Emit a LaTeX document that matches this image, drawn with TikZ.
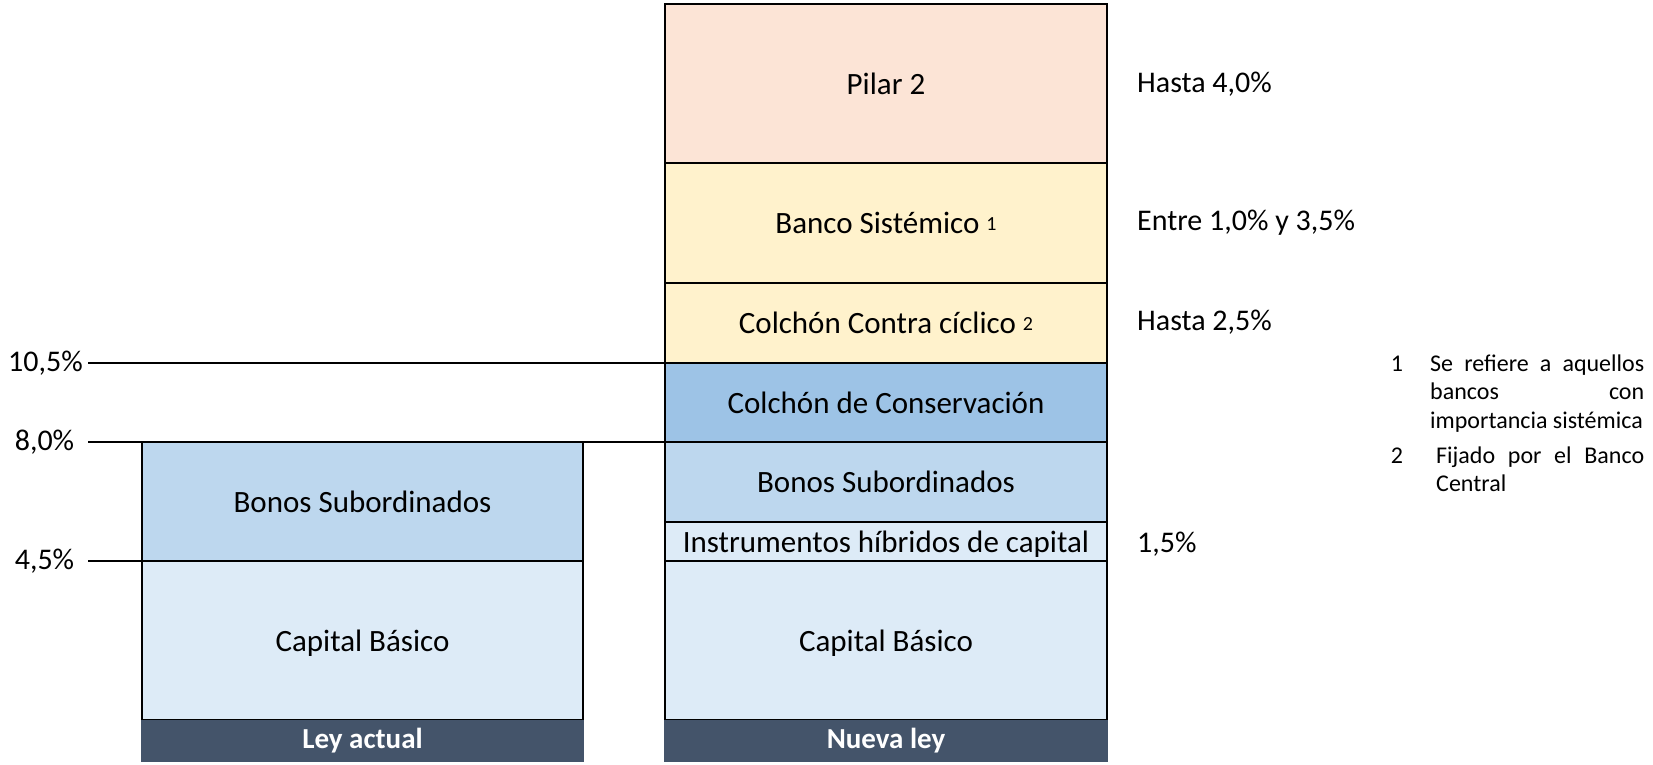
\documentclass[tikz,border=0pt]{standalone}
\usepackage{fontspec}
\setmainfont{Carlito}
\definecolor{peach}{HTML}{FCE4D6}
\definecolor{cream}{HTML}{FFF2CC}
\definecolor{bluemid}{HTML}{9DC3E6}
\definecolor{bluelt}{HTML}{BDD7EE}
\definecolor{bluepale}{HTML}{DDEBF7}
\definecolor{band}{HTML}{44546A}
\tikzset{
  seg/.style={draw=black, line width=2.4pt, inner sep=0pt, minimum width=442pt,
    font=\fontsize{31}{36}\selectfont, text=black},
  bandbox/.style={fill=band, inner sep=0pt, minimum width=444pt, minimum height=42pt,
    text=white, font=\fontsize{29}{34}\selectfont\bfseries},
  lvl/.style={font=\fontsize{30}{36}\selectfont, inner sep=0pt},
  rlab/.style={font=\fontsize{30}{36}\selectfont, inner sep=0pt, anchor=west},
  fnote/.style={font=\fontsize{24}{29}\selectfont, inner sep=0pt, anchor=base west},
  fnum/.style={font=\fontsize{24}{29}\selectfont, inner sep=0pt, anchor=base},
  guide/.style={line width=2.2pt, black},
}
\newcommand{\supmark}[1]{ \raisebox{3pt}{\fontsize{20}{20}\selectfont #1}}
\begin{document}
\begin{tikzpicture}[x=1pt,y=-1pt]
\useasboundingbox (0,0) rectangle (1653,764);
% right column (Nueva ley)
\node[seg, fill=bluepale, minimum height=159pt, text depth=0pt] (capN) at (886,640.5) {Capital Básico};
\node[seg, fill=bluepale, minimum height=39pt, text depth=0pt] (hib) at (886,541.5) {Instrumentos híbridos de capital};
\node[seg, fill=bluelt, minimum height=80pt] (bonN) at (886,482) {Bonos Subordinados};
\node[seg, fill=bluemid, minimum height=79pt] (cons) at (886,402.5) {Colchón de Conservación};
\node[seg, fill=cream, minimum height=80pt] (contra) at (886,323) {Colchón Contra cíclico\supmark{2}};
\node[seg, fill=cream, minimum height=120pt] (sist) at (886,223) {Banco Sistémico\supmark{1}};
\node[seg, fill=peach, minimum height=159pt] (pilar) at (886,83.5) {Pilar 2};
\node[bandbox] (nueva) at (886,741) {\raisebox{-2pt}{Nueva ley}};
% left column (Ley actual)
\node[seg, fill=bluepale, minimum width=441pt, minimum height=159pt, text depth=0pt] (capA) at (362.5,640.5) {Capital Básico};
\node[seg, fill=bluelt, minimum width=441pt, minimum height=119pt] (bonA) at (362.5,501.5) {Bonos Subordinados};
\node[bandbox, minimum width=443pt] (actual) at (362.5,741) {\raisebox{-2pt}{Ley actual}};
% level labels and guide lines
\node[lvl] (p105) at (45.5,363) {10,5\%};
\node[lvl] (p80) at (44.5,442) {8,0\%};
\node[lvl] (p45) at (44.5,561) {4,5\%};
\coordinate (g105) at (88,363);
\coordinate (g80) at (88,442);
\coordinate (g45) at (88,561);
\draw[guide] (g105) -- (g105 -| cons.west);
\draw[guide] (g80) -- (g80 -| bonN.west);
\draw[guide] (g45) -- (g45 -| capA.west);
% right labels
\node[rlab] (r1) at (1137,84) {Hasta 4,0\%};
\node[rlab] (r2) at (1137,223) {Entre 1,0\% y 3,5\%};
\node[rlab] (r3) at (1137,322) {Hasta 2,5\%};
\node[rlab] (r4) at (1137,544) {1,5\%};
% footnotes
\node[fnum] (n1) at (1397,371) {1};
\node[fnote] (f1a) at (1430,371) {\makebox[214pt][s]{Se refiere a aquellos}};
\node[fnote] (f1b) at (1430,399) {\makebox[214pt][s]{bancos\hfill con}};
\node[fnote] (f1c) at (1430,428) {importancia sistémica};
\node[fnum] (n2) at (1397,463) {2};
\node[fnote] (f2a) at (1436,463) {\makebox[208pt][s]{Fijado por el Banco}};
\node[fnote] (f2b) at (1436,491) {Central};
\end{tikzpicture}
\end{document}
